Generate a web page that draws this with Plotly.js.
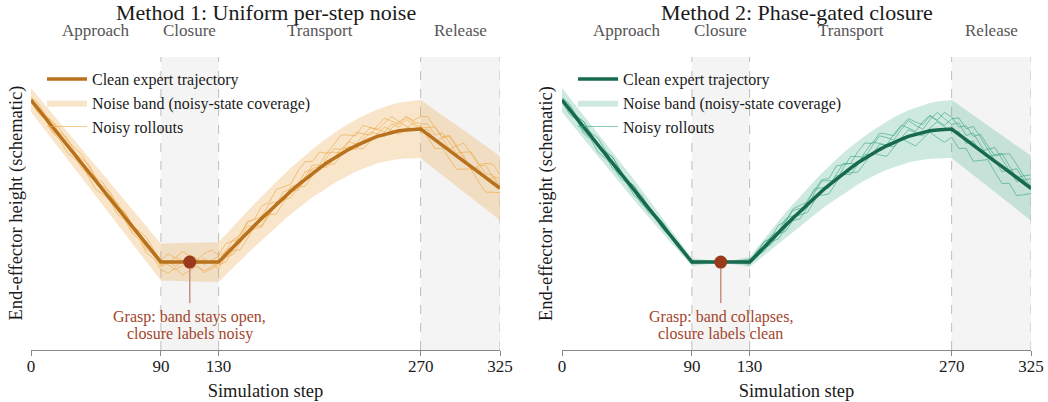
<!DOCTYPE html>
<html><head><meta charset="utf-8">
<script src="https://cdn.plot.ly/plotly-3.0.1.min.js"></script>
<style>html,body{margin:0;padding:0;background:#fff}#chart{width:1048px;height:402px}</style>
</head><body><div id="chart"></div>
<script>
// ---- data ----
const steps = [0,5,10,15,20,25,30,35,40,45,50,55,60,65,70,75,80,85,90,
  95,100,105,110,115,120,125,130,
  135,140,145,150,155,160,165,170,175,180,185,190,195,200,205,210,215,220,225,230,235,240,245,250,255,260,265,270,
  275,280,285,290,295,300,305,310,315,320,325];
const cleanHeight = [85.3,82.2,79.2,76.1,73.0,69.9,66.9,63.8,60.7,57.6,54.6,51.5,48.4,45.4,42.3,39.2,36.1,33.1,30.0,
  30.0,30.0,30.0,30.0,30.0,30.0,30.0,30.0,
  32.5,35.1,37.6,40.1,42.6,45.0,47.4,49.7,52.0,54.2,56.3,58.3,60.3,62.1,63.9,65.5,67.0,68.4,69.7,70.9,71.9,72.9,73.6,74.3,74.8,75.1,75.3,75.4,
  73.6,71.7,69.9,68.1,66.2,64.4,62.6,60.7,58.9,57.0,55.2];
const bandHalfUniform = [4.1,4.2,4.3,4.5,4.6,4.7,4.8,4.9,5.0,5.2,5.3,5.4,5.6,5.7,5.8,5.9,6.1,6.2,6.3,
  6.4,6.5,6.5,6.6,6.6,6.7,6.7,6.8,
  6.9,7.0,7.1,7.2,7.4,7.5,7.6,7.7,7.8,7.9,8.0,8.1,8.2,8.4,8.5,8.6,8.7,8.8,8.9,9.0,9.1,9.2,9.3,9.5,9.6,9.7,9.8,9.9,
  10.0,10.1,10.2,10.3,10.4,10.5,10.6,10.7,10.7,10.8,10.9];
const bandHalfGated = [4.1,4.1,4.0,4.0,3.9,3.9,3.8,3.8,3.7,3.6,3.5,3.3,3.1,2.9,2.7,2.3,1.9,1.6,1.3,
  1.0,0.7,0.5,0.4,0.5,0.8,1.2,1.7,
  2.2,2.8,3.3,3.8,4.3,4.7,5.1,5.5,5.8,6.1,6.4,6.7,7.0,7.2,7.4,7.6,7.8,8.0,8.2,8.5,8.7,8.9,9.1,9.3,9.5,9.7,9.8,9.9,
  10.0,10.1,10.2,10.3,10.4,10.5,10.6,10.7,10.8,11.0,11.1];
// rollout deviations from the clean trajectory
const rolloutsUniform = [
 [0.5,1.2,0.4,1.8,2.5,1.6,2.2,3.0,1.9,1.1,2.4,1.5,0.6,1.7,0.8,-0.5,0.9,-0.8,-1.5,
  -0.4,1.6,0.5,2.4,1.2,-0.8,0.6,1.8,
  0.9,2.6,1.4,3.5,2.1,4.2,3.0,5.1,3.6,2.4,4.8,6.0,4.1,5.5,3.2,4.6,6.4,5.0,3.4,5.8,4.0,2.2,3.9,5.4,3.1,4.4,2.6,1.8,
  3.5,1.6,4.2,2.8,0.9,3.1,5.0,3.3,1.2,2.7,0.8],
 [-0.6,-1.4,-0.5,-2.0,-1.2,-2.6,-1.5,-0.4,-1.8,-2.9,-1.6,-0.7,-2.2,-1.0,-2.5,-1.3,-3.0,-1.8,-2.6,
  -3.8,-2.1,-4.4,-2.9,-1.4,-3.6,-2.3,-0.9,
  -2.5,-1.2,-3.4,-1.8,-0.6,-2.4,-1.0,0.8,-0.9,1.5,0.2,2.6,1.0,-0.8,1.9,3.2,1.4,2.8,0.6,2.1,4.0,2.5,0.8,2.9,1.2,3.6,1.7,-0.5,
  1.8,-0.6,2.4,0.5,3.5,1.7,-0.9,2.0,4.2,2.1,3.4],
 [0.3,-0.8,0.9,1.9,0.6,-0.7,0.5,1.4,2.6,1.2,0.2,-1.1,0.4,1.6,0.3,1.5,2.4,1.1,0.6,
  2.8,1.5,3.6,2.2,0.7,2.9,4.1,2.4,
  3.8,2.1,0.4,2.3,-0.5,1.2,-1.6,0.3,2.0,0.7,-1.2,0.9,2.8,1.1,3.5,2.0,0.4,2.6,4.5,3.0,1.4,3.7,5.5,3.8,2.2,4.6,3.0,4.4,
  6.0,4.2,2.5,4.8,3.0,1.1,-1.0,1.5,-0.6,1.8,-0.2],
 [-0.4,0.6,-0.5,-1.6,-0.4,0.8,-0.3,-1.7,-0.6,0.5,-0.8,0.9,1.8,0.6,-0.6,0.4,-1.0,0.3,-1.1,
  0.4,-1.5,0.3,-2.0,-0.5,1.3,-0.4,-2.2,
  -0.8,-2.5,-1.1,0.5,-1.3,-2.9,-1.2,-3.3,-1.6,0.3,-1.8,-0.2,1.7,0.4,-1.5,-0.1,1.9,0.5,-1.3,0.8,2.4,0.9,-0.8,1.5,3.1,1.3,-0.3,1.0,
  -1.2,-3.0,-1.0,-2.9,-4.6,-2.6,-0.9,-3.1,-5.0,-3.2,-1.5],
 [0.9,2.0,1.1,-0.2,1.3,2.5,1.2,0.1,-1.2,-0.1,1.3,2.3,0.8,-0.4,-1.6,-0.5,-1.8,-0.6,0.7,
  -1.0,-2.6,-1.2,0.4,-1.4,-3.0,-1.6,-0.3,
  1.6,0.2,2.1,3.7,2.0,0.5,2.5,1.0,-0.7,-2.2,-0.6,-2.4,-0.9,1.0,-0.4,-2.1,-0.5,1.2,-0.6,-2.3,-0.8,0.9,2.5,0.7,-1.1,0.6,2.2,0.5,
  2.3,4.5,2.8,5.2,3.5,6.2,4.4,2.5,4.8,6.5,4.6]
];
const rolloutsGated = [
 [0.4,1.3,0.5,1.9,1.0,-0.3,0.8,2.0,1.1,0.2,1.4,0.6,-0.4,0.7,1.2,0.4,0.9,0.3,0.5,
  0.2,0.4,0.1,0.2,0.1,0.3,0.6,0.9,
  0.4,1.6,0.8,2.5,1.3,3.1,2.0,0.7,2.6,3.9,2.2,4.5,3.0,1.6,3.8,5.2,3.4,5.6,4.0,2.2,4.4,6.1,4.2,2.6,5.0,3.3,5.8,4.1,
  2.5,4.8,3.0,5.5,3.6,1.8,4.2,6.3,4.5,2.4,4.6],
 [-0.5,-1.6,-0.6,-2.2,-1.1,-2.4,-1.4,-0.5,-1.8,-0.7,-1.9,-0.8,-1.5,-0.4,-1.2,-0.5,-0.9,-0.3,-0.6,
  -0.3,-0.1,-0.2,0.0,-0.1,-0.2,-0.4,-0.8,
  -0.3,-1.4,-0.6,-2.2,-1.0,0.4,-1.3,-2.8,-1.1,0.6,-1.0,1.1,-0.4,-2.2,-0.6,1.2,-0.3,1.8,0.2,-1.6,0.4,2.3,0.6,-1.3,1.0,2.8,0.9,-0.8,
  1.0,-1.2,1.5,-0.5,2.4,0.4,-1.8,0.8,-1.4,1.1,-0.9],
 [0.2,-0.9,0.7,1.8,0.5,-0.6,0.9,2.1,0.8,-0.5,0.6,1.5,0.3,-0.6,0.5,-0.3,0.6,-0.2,0.3,
  0.1,0.2,0.0,0.1,0.0,0.1,0.2,0.3,
  1.2,0.2,1.5,0.4,2.2,0.8,-0.6,1.3,2.9,1.2,-0.4,1.6,3.4,1.5,-0.3,2.0,4.0,2.1,0.3,2.8,4.8,2.9,1.0,3.6,5.3,3.2,1.4,3.5,
  5.6,3.8,6.4,4.5,2.3,4.7,2.6,0.5,3.0,1.0,3.3],
 [-0.3,0.8,-0.4,-1.5,-0.5,0.7,-0.6,-1.8,-0.7,0.6,-0.5,-1.6,-0.6,0.4,-0.8,0.3,-0.5,0.2,-0.4,
  -0.1,0.0,-0.1,0.0,0.1,0.0,-0.2,-0.5,
  -1.0,-0.2,-1.6,-0.4,-2.1,-0.8,-2.6,-1.0,0.5,-1.4,-3.0,-1.2,0.4,-1.6,-3.2,-1.5,0.2,-1.8,-3.6,-1.7,0.3,-2.0,-4.0,-2.2,-0.4,-2.6,-4.4,-2.8,
  -4.8,-2.9,-5.5,-3.4,-1.2,-3.7,-5.8,-3.8,-6.2,-4.0,-1.8],
 [0.8,1.9,0.9,-0.3,1.2,2.4,1.3,0.2,-0.9,0.3,1.4,0.4,-0.7,0.5,1.0,0.2,-0.6,0.4,-0.2,
  0.1,-0.1,0.1,0.0,0.0,0.1,0.1,-0.2,
  0.7,1.9,0.5,-0.8,1.3,2.6,0.9,-0.7,1.6,3.4,1.5,-0.5,1.8,4.0,2.1,0.2,2.6,4.7,2.8,0.8,3.3,5.4,3.1,1.0,3.8,6.0,3.7,1.6,
  3.9,1.5,4.2,2.0,-0.4,2.3,4.5,2.1,-0.2,2.5,0.3]
];
const phaseNames = ['Approach','Closure','Transport','Release'];
const phaseStarts = [0,90,130,270];
const phaseEnds = [90,130,270,325];
const shadedPhases = ['Closure','Release'];
const tickSteps = [0,90,130,270,325];
const graspStep = [110];
const graspHeight = [30.0];
const panelTitles = ['Method 1: Uniform per-step noise','Method 2: Phase-gated closure'];
const graspNotes = [['Grasp: band stays open,','closure labels noisy'],['Grasp: band collapses,','closure labels clean']];
const seriesNames = ['Clean expert trajectory','Noise band (noisy-state coverage)','Noisy rollouts'];

// ---- build ----
const FONT = 'Liberation Serif, Times New Roman, serif';
const panels = [
  {xa:'x',ya:'y',leg:'legend',hw:bandHalfUniform,devs:rolloutsUniform,
   line:'#b8711c',band:'rgba(236,170,80,0.30)',roll:'rgba(236,166,64,0.6)'},
  {xa:'x2',ya:'y2',leg:'legend2',hw:bandHalfGated,devs:rolloutsGated,
   line:'#176a50',band:'rgba(70,175,140,0.27)',roll:'rgba(55,165,125,0.6)'}
];
const traces = [];
panels.forEach(p=>{
  const upper = cleanHeight.map((v,i)=>v+p.hw[i]);
  const lower = cleanHeight.map((v,i)=>v-p.hw[i]);
  traces.push({x:steps,y:upper,xaxis:p.xa,yaxis:p.ya,mode:'lines',line:{width:0,color:p.band},
    showlegend:false,hoverinfo:'skip',legend:p.leg});
  traces.push({x:steps,y:lower,xaxis:p.xa,yaxis:p.ya,mode:'lines',line:{width:0,color:p.band},
    fill:'tonexty',fillcolor:p.band,name:seriesNames[1],legend:p.leg,legendrank:2});
  p.devs.forEach((d,k)=>traces.push({x:steps,y:cleanHeight.map((v,i)=>v+d[i]),xaxis:p.xa,yaxis:p.ya,
    mode:'lines',line:{width:1,color:p.roll},name:seriesNames[2],showlegend:k===0,
    legend:p.leg,legendrank:3,legendgroup:p.leg+'r'}));
  traces.push({x:steps,y:cleanHeight,xaxis:p.xa,yaxis:p.ya,mode:'lines',
    line:{width:3.5,color:p.line},name:seriesNames[0],legend:p.leg,legendrank:1});
  traces.push({x:[graspStep[0],graspStep[0]],y:[graspHeight[0],16],xaxis:p.xa,yaxis:p.ya,mode:'lines',
    line:{width:1.5,color:'#c8907f'},showlegend:false,hoverinfo:'skip'});
  traces.push({x:graspStep,y:graspHeight,xaxis:p.xa,yaxis:p.ya,mode:'markers',
    marker:{size:13,color:'#9a3a1c'},showlegend:false,hoverinfo:'skip'});
});

const shapes = [];
const annotations = [];
const xRefs = ['x','x2'];
const centers = [0.2345,0.7655];
const yTitleX = [-0.015,0.5155];
xRefs.forEach((xr,pi)=>{
  phaseNames.forEach((n,i)=>{
    if (shadedPhases.includes(n)) shapes.push({type:'rect',xref:xr,yref:'paper',x0:phaseStarts[i],x1:phaseEnds[i],
      y0:0,y1:1,fillcolor:'#f4f4f4',line:{width:0},layer:'below'});
    annotations.push({xref:xr,yref:'paper',x:(phaseStarts[i]+phaseEnds[i])/2,y:1.09,text:n,showarrow:false,
      xanchor:'center',yanchor:'middle',font:{size:17,color:'#555',family:FONT}});
  });
  tickSteps.slice(1).forEach(t=>shapes.push({type:'line',xref:xr,yref:'paper',x0:t,x1:t,y0:0,y1:1,
    line:{color:'#bdbdbd',width:1,dash:'dash'},layer:'below'}));
  annotations.push({xref:'paper',yref:'paper',x:centers[pi],y:1.151,text:panelTitles[pi],showarrow:false,
    xanchor:'center',yanchor:'middle',font:{size:22,color:'#1a1a1a',family:FONT}});
  annotations.push({xref:'paper',yref:'paper',x:yTitleX[pi],y:0.5,text:'End-effector height (schematic)',showarrow:false,
    textangle:-90,xanchor:'center',yanchor:'middle',font:{size:18.5,color:'#1a1a1a',family:FONT}});
  graspNotes[pi].forEach((ln,k)=>annotations.push({xref:xr,yref:'y'+(pi?'2':''),x:graspStep[0],y:k?5.5:11.3,text:ln,
    showarrow:false,xanchor:'center',yanchor:'middle',font:{size:16,color:'#a3452c',family:FONT}}));
});

const xaxisBase = {range:[0,325],tickvals:tickSteps,ticks:'outside',ticklen:5,tickcolor:'#888',tickwidth:1,
  showline:true,linecolor:'#888',linewidth:1,showgrid:false,zeroline:false,ticklabelstandoff:-4,
  tickfont:{size:17,color:'#1a1a1a',family:FONT},
  title:{text:'Simulation step',font:{size:18.5,color:'#1a1a1a',family:FONT},standoff:8},fixedrange:true};
const legendBase = {xanchor:'left',yanchor:'top',y:0.983,bgcolor:'rgba(0,0,0,0)',borderwidth:0,
  font:{size:16,color:'#1a1a1a',family:FONT},itemwidth:40,traceorder:'normal'};

const layout = {
  width:1048,height:402,margin:{l:31,r:17,t:57,b:52},
  paper_bgcolor:'#fff',plot_bgcolor:'rgba(0,0,0,0)',
  font:{family:FONT,color:'#1a1a1a'},
  hovermode:false,showlegend:true,
  xaxis:Object.assign({},xaxisBase,{domain:[0,0.469],anchor:'y'}),
  xaxis2:Object.assign({},xaxisBase,{domain:[0.531,1],anchor:'y2'}),
  yaxis:{range:[0,100],visible:false,fixedrange:true,anchor:'x'},
  yaxis2:{range:[0,100],visible:false,fixedrange:true,anchor:'x2'},
  legend:Object.assign({},legendBase,{x:0.011}),
  legend2:Object.assign({},legendBase,{x:0.542}),
  shapes:shapes,annotations:annotations
};
Plotly.newPlot('chart',traces,layout,{staticPlot:true,displayModeBar:false});
</script></body></html>
